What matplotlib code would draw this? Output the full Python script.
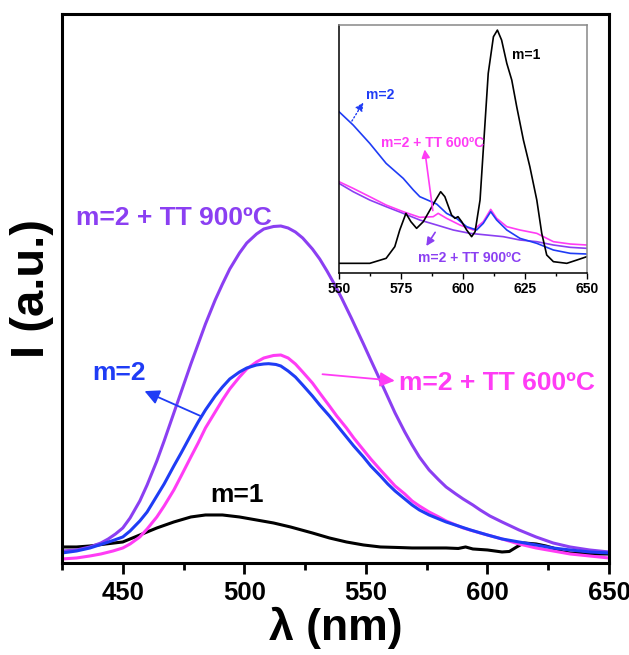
import matplotlib
matplotlib.use("Agg")
import matplotlib.pyplot as plt
from matplotlib.ticker import MultipleLocator, NullLocator

plt.rcParams['font.family'] = ['Liberation Sans', 'DejaVu Sans']
plt.rcParams['font.weight'] = 'bold'

# colours
PURPLE = '#8b3ff2'
BLUE = '#1f3cf5'
MAGENTA = '#ff3cf5'
BLACK = '#000000'

# ---- main spectra (arbitrary units) ----
wl_900 = [425, 431, 436.5, 441, 444, 447, 450, 453, 457, 460, 464, 467, 471, 474, 478,
          481, 484, 488, 491, 494, 498, 501, 505, 508, 512, 515, 518, 521, 524, 528,
          531, 534, 537, 540, 544, 549, 552, 556, 559, 562, 566, 569, 572, 576, 580,
          583, 587, 590, 594, 597, 601, 606, 613, 620, 627, 634, 642, 650]
i_900 = [12, 13, 16, 20, 24, 29, 35, 45, 62, 78, 102, 122, 150, 171, 199,
         219, 239, 263, 279, 294, 310, 320, 329, 334, 336.5, 337, 335, 331, 325, 314,
         304, 292, 279, 265, 245, 219, 203, 182, 166, 150, 131, 118, 106, 93, 83,
         76, 69, 64, 58, 53, 47, 41, 33, 26, 20, 16, 13, 11]

wl_m2 = [425, 431, 436.5, 441, 446, 450, 453, 457, 460, 464, 467, 471, 474, 478, 481,
         484, 488, 491, 494, 498, 501, 505, 508, 510, 513, 515, 518, 521, 524, 528,
         531, 535, 538, 542, 545, 549, 552, 556, 559, 562, 566, 569, 572, 576, 580,
         583, 588, 593, 600, 606, 613, 620, 627, 634, 642, 650]
i_m2 = [10, 12, 15, 18.5, 22.5, 26, 32, 42, 51, 67, 79, 97, 110, 128, 141,
        153, 167, 176, 184, 191, 195, 198, 199, 199.3, 198.5, 197, 192, 186, 178, 167,
        158, 147, 138, 126, 117, 106, 97, 87, 79, 72, 64, 58, 53, 48, 44,
        41, 37, 33, 28, 24, 21, 18, 15, 13, 11, 10]

wl_600 = [425, 431, 436.5, 441, 446, 450, 453, 457, 460, 464, 467, 471, 474, 478, 481,
          484, 488, 491, 494, 498, 501, 505, 508, 512, 515, 518, 521, 524, 528, 531,
          535, 538, 542, 545, 549, 552, 556, 559, 562, 566, 569, 572, 576, 580, 583,
          590, 597, 606, 613, 620, 627, 634, 642, 650]
i_600 = [4, 5, 7, 9, 12, 15, 19, 26, 34, 46, 57, 73, 87, 106, 120,
         135, 151, 163, 174, 186, 194, 201, 205, 207.5, 208, 205, 199, 191, 180, 170,
         157, 147, 135, 125, 113, 104, 93, 85, 77, 69, 62, 57, 51, 46, 42,
         35, 30, 24, 19, 15, 12, 9, 7, 5]

wl_m1 = [425, 431, 436.5, 443, 450, 457, 464, 471, 478, 484, 491, 498, 505, 512, 519,
         528, 535, 542, 549, 556, 563, 569, 576, 583, 588, 591, 594, 600, 606, 609,
         612, 615, 620, 624, 627, 631, 634, 642, 650]
i_m1 = [16, 16, 17, 19, 21, 28, 35, 41, 46, 48, 48, 46, 43, 40, 36,
        30, 25, 21, 18, 16, 15.5, 15, 15, 15, 14.5, 16, 14, 13, 11, 11.5,
        16, 20, 19, 17, 15, 11, 10, 9, 9]

# ---- inset spectra (550-650 nm, arbitrary units) ----
in_wl_m1 = [550, 562.4, 569, 572.5, 574.5, 577, 579, 581.3, 584, 586.7, 589, 591, 592.7,
            595.4, 596.8, 598, 599.5, 601.5, 603.5, 604.9, 606.9, 608.2, 610.2, 612.3,
            613.9, 615.6, 617.7, 619.7, 621.7, 624.4, 627, 629.8, 631.8, 633.8, 636.5,
            641.9, 646, 650]
in_i_m1 = [30, 30, 45, 80, 130, 180, 155, 135, 155, 190, 220, 245, 230,
           175, 165, 170, 155, 130, 110, 125, 220, 370, 600, 710,
           730, 700, 630, 580, 500, 400, 320, 220, 120, 55, 35,
           30, 40, 50]

in_wl_m2 = [550, 555.7, 562.4, 569, 575.9, 580, 582.6, 589.4, 593.4, 597.4, 601.5,
            605.5, 608.2, 611.2, 613.6, 617.7, 623, 629.8, 636.5, 643.3, 650]
in_i_m2 = [485, 445, 390, 330, 285, 250, 230, 208, 180, 165, 140,
           130, 150, 185, 160, 130, 105, 90, 70, 60, 58]

in_wl_600 = [550, 555.7, 562.4, 569, 575.9, 582.6, 588, 590, 593.4, 598.8, 604.2,
             608.2, 611.2, 613.6, 617.7, 623, 629.8, 636.5, 643.3, 650]
in_i_600 = [275, 255, 230, 205, 185, 168, 170, 180, 165, 145, 130,
            155, 192, 165, 140, 130, 120, 95, 88, 85]

in_wl_900 = [550, 555.7, 562.4, 569, 575.9, 582.6, 589.4, 596.1, 602.8, 609.6, 616.3,
             623, 629.8, 636.5, 643.3, 650]
in_i_900 = [270, 245, 220, 200, 180, 160, 145, 130, 120, 115, 110,
            100, 95, 85, 78, 75]

x_label = 'λ (nm)'
y_label = 'I (a.u.)'

fig = plt.figure(figsize=(6.29, 6.55), dpi=100)
ax = fig.add_axes([0.0986, 0.1405, 0.8696, 0.8381])

ax.plot(wl_m1, i_m1, color=BLACK, lw=2.2)
ax.plot(wl_900, i_900, color=PURPLE, lw=2.2)
ax.plot(wl_600, i_600, color=MAGENTA, lw=2.2)
ax.plot(wl_m2, i_m2, color=BLUE, lw=2.2)

ax.set_xlim(425, 650)
ax.set_ylim(0, 549)
ax.xaxis.set_major_locator(MultipleLocator(50))
ax.xaxis.set_minor_locator(MultipleLocator(25))
ax.yaxis.set_major_locator(NullLocator())
ax.tick_params(axis='x', which='major', direction='out', length=8, width=2,
               labelsize=18.5, pad=5)
ax.tick_params(axis='x', which='minor', direction='out', length=5, width=2)
for lab in ax.get_xticklabels():
    lab.set_fontweight('bold')
for sp in ax.spines.values():
    sp.set_linewidth(2.2)

ax.set_xlabel(x_label, fontsize=32, fontweight='bold', labelpad=1)
ax.set_ylabel(y_label, fontsize=34, fontweight='bold', labelpad=6)

# main annotations
txt = dict(fontsize=19, fontweight='bold', va='center', ha='left')
ax.text(430.8, 345, 'm=2 + TT 900ºC', color=PURPLE, **txt)
ax.text(437.3, 190, 'm=2', color=BLUE, **txt)
ax.text(563.5, 180, 'm=2 + TT 600ºC', color=MAGENTA, **txt)
ax.text(485.8, 68, 'm=1', color=BLACK, **txt)
ax.annotate('', xy=(457.9, 173), xytext=(482.9, 146),
            arrowprops=dict(arrowstyle='-|>', color=BLUE, lw=1.3,
                            mutation_scale=22))
ax.annotate('', xy=(563, 182), xytext=(531, 189),
            arrowprops=dict(arrowstyle='-|>', color=MAGENTA, lw=1.3,
                            mutation_scale=22))

# inset
ins = fig.add_axes([0.539, 0.5827, 0.394, 0.379])
ins.plot(in_wl_900, in_i_900, color=PURPLE, lw=1.2)
ins.plot(in_wl_600, in_i_600, color=MAGENTA, lw=1.2)
ins.plot(in_wl_m2, in_i_m2, color=BLUE, lw=1.2)
ins.plot(in_wl_m1, in_i_m1, color=BLACK, lw=1.2)
ins.set_xlim(550, 650)
ins.set_ylim(0, 745)
ins.xaxis.set_major_locator(MultipleLocator(25))
ins.xaxis.set_minor_locator(MultipleLocator(12.5))
ins.yaxis.set_major_locator(NullLocator())
ins.tick_params(axis='x', which='major', direction='out', length=4, width=1,
                labelsize=10, pad=2)
ins.tick_params(axis='x', which='minor', direction='out', length=2.5, width=1)
for lab in ins.get_xticklabels():
    lab.set_fontweight('bold')
for sp in ins.spines.values():
    sp.set_linewidth(1.1)
ins.spines['top'].set_color('#888888')
ins.spines['right'].set_color('#888888')

itxt = dict(fontsize=10, fontweight='bold', va='center', ha='left')
ins.text(619.7, 655, 'm=1', color=BLACK, **itxt)
ins.text(560.8, 535, 'm=2', color=BLUE, **itxt)
ins.text(567.1, 390, 'm=2 + TT 600ºC', color=MAGENTA, **itxt)
ins.text(582, 45, 'm=2 + TT 900ºC', color=PURPLE, **itxt)
ins.annotate('', xy=(560.4, 520), xytext=(554.6, 450),
             arrowprops=dict(arrowstyle='-|>', color=BLUE, lw=1, ls=':',
                             mutation_scale=12))
ins.annotate('', xy=(584.4, 380), xytext=(588, 180),
             arrowprops=dict(arrowstyle='-|>', color=MAGENTA, lw=1.2,
                             mutation_scale=12))
ins.annotate('', xy=(584.6, 75), xytext=(589.4, 130),
             arrowprops=dict(arrowstyle='-|>', color=PURPLE, lw=1.2,
                             mutation_scale=12))

fig.savefig('out.png', dpi=100)
